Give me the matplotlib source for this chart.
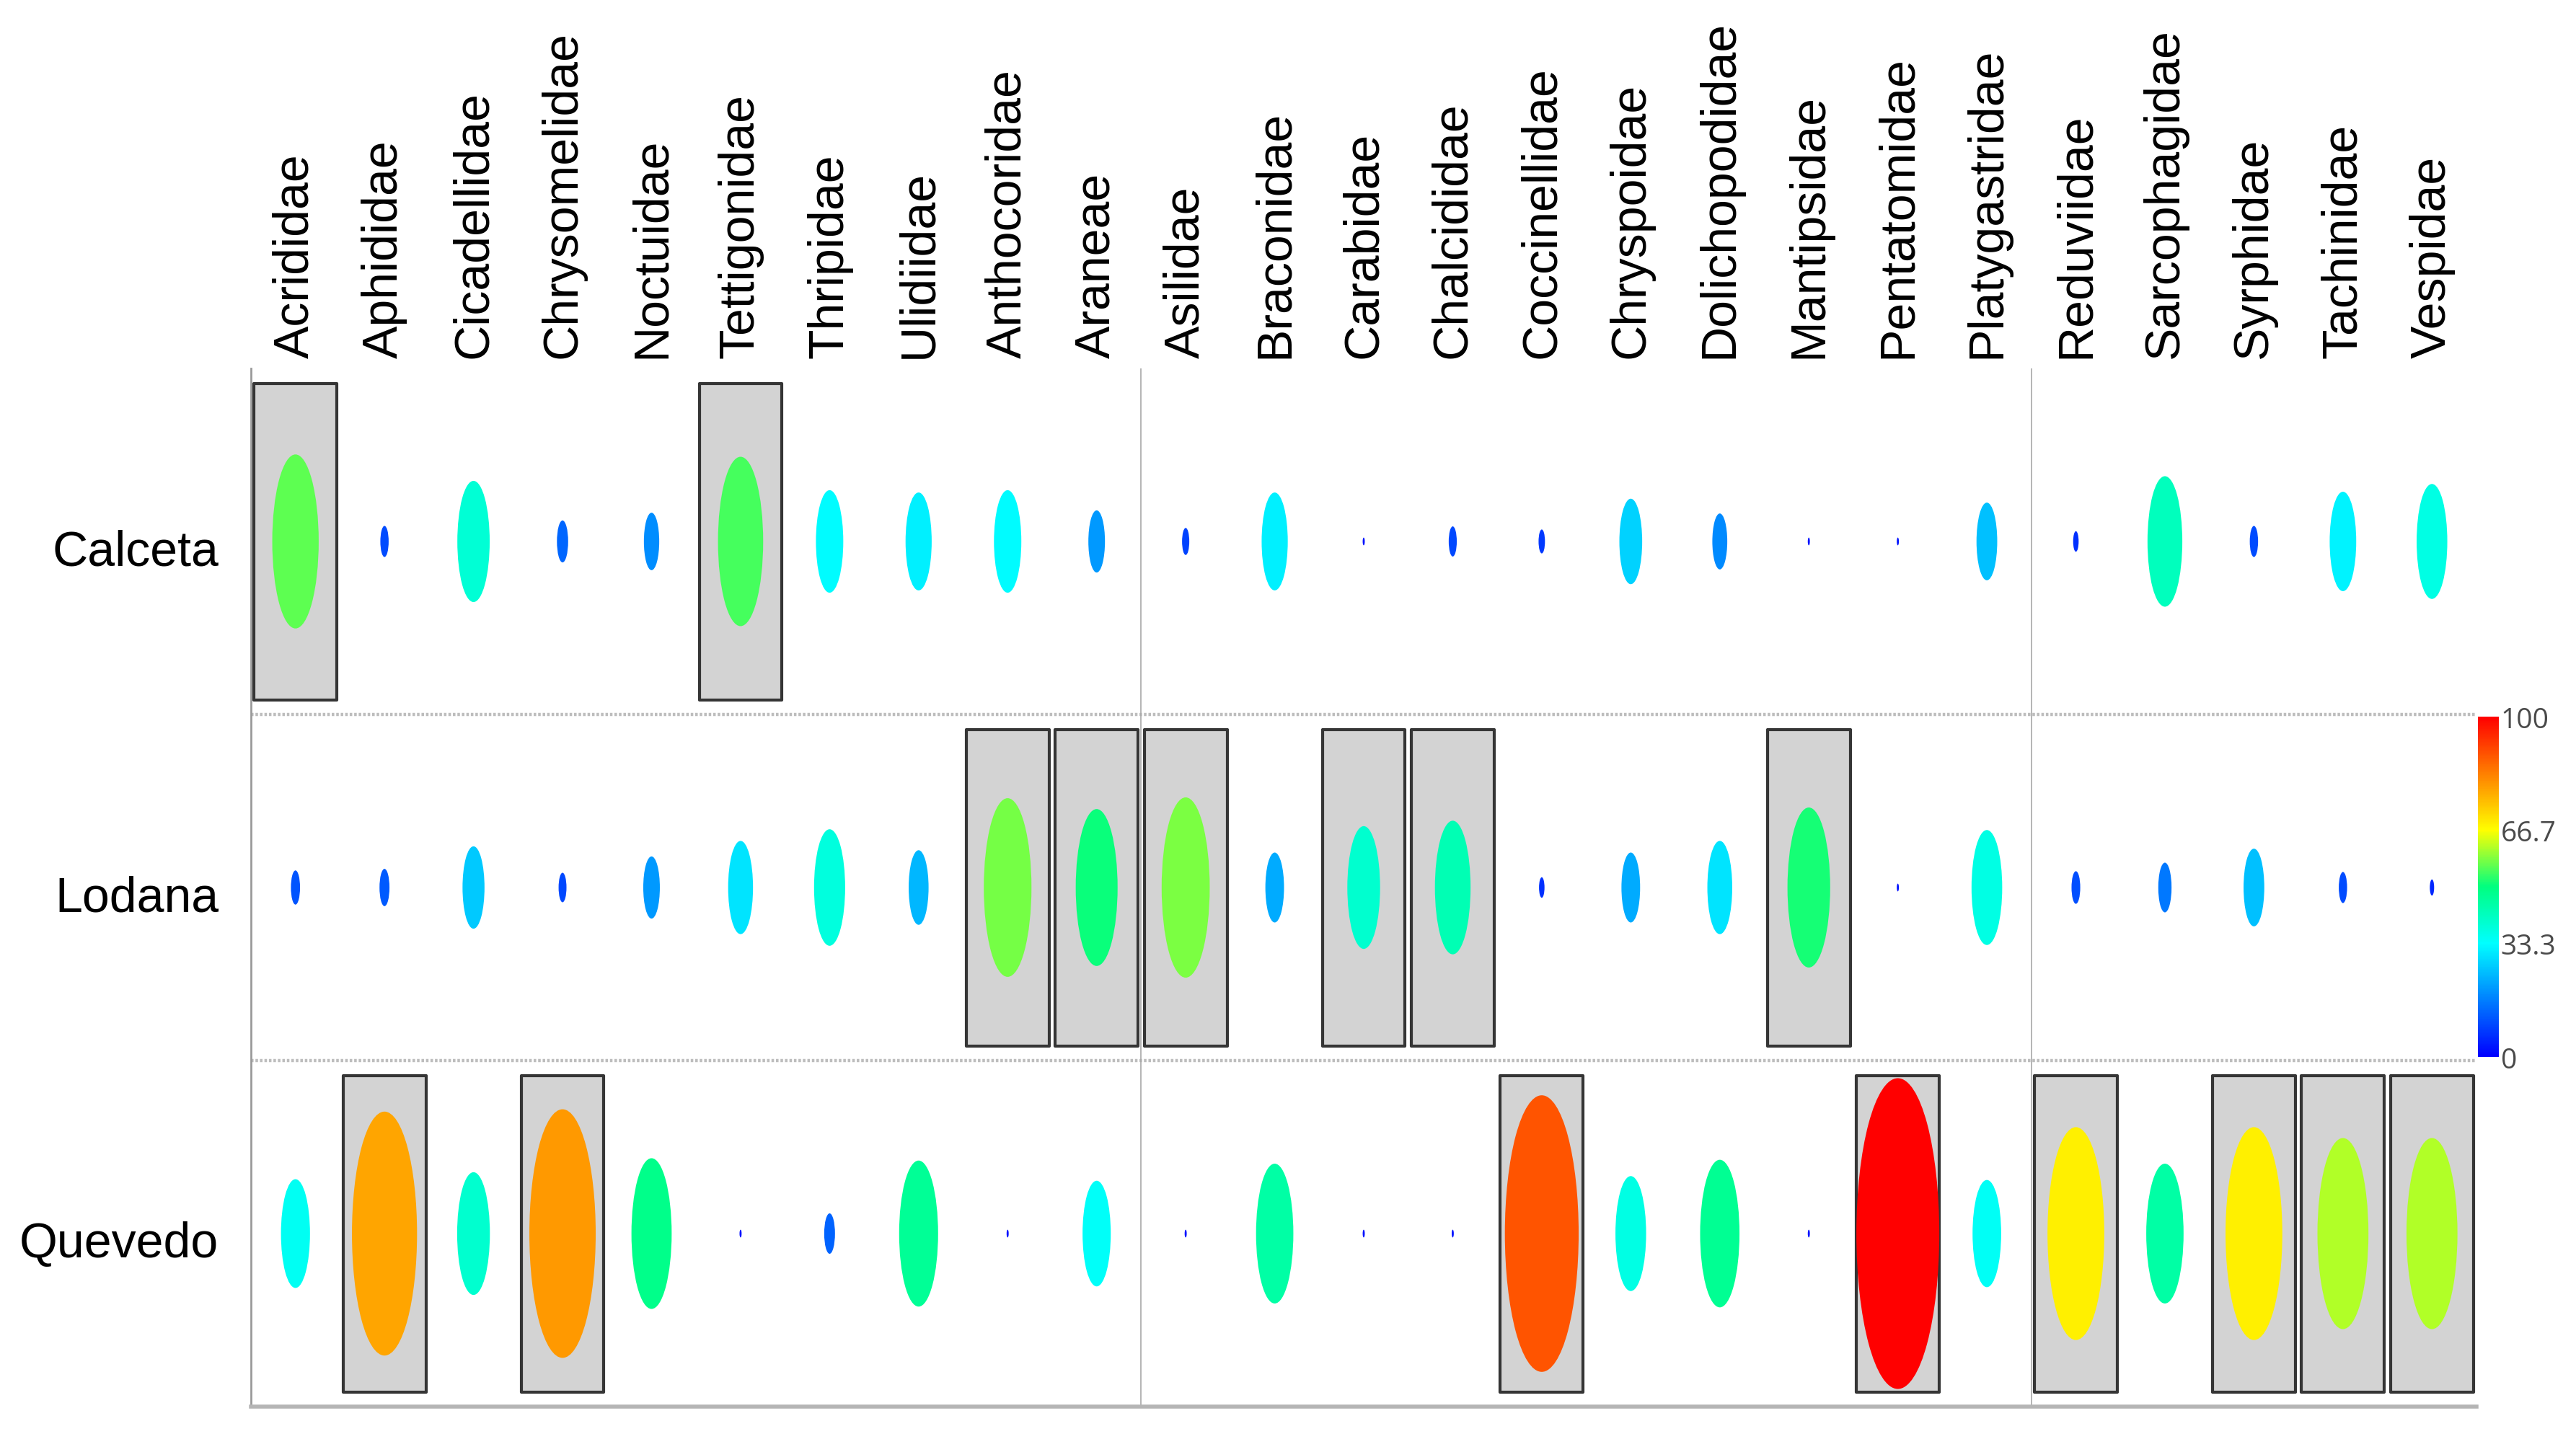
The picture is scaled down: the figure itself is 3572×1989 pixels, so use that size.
import matplotlib
matplotlib.use("Agg")
import matplotlib.pyplot as plt
import matplotlib.transforms as mtransforms
from matplotlib.patches import Ellipse, Rectangle
from matplotlib.colors import LinearSegmentedColormap, Normalize
from matplotlib.cm import ScalarMappable

familias = ["Acrididae", "Aphididae", "Cicadellidae", "Chrysomelidae", "Noctuidae",
            "Tettigonidae", "Thripidae", "Ulidiidae", "Anthocoridae", "Araneae",
            "Asilidae", "Braconidae", "Carabidae", "Chalcididae", "Coccinellidae",
            "Chryspoidae", "Dolichopodidae", "Mantipsidae", "Pentatomidae", "Platygastridae",
            "Reduviidae", "Sarcophagidae", "Syrphidae", "Tachinidae", "Vespidae"]
sitios = ["Calceta", "Lodana", "Quevedo"]

# valores relativos (0-100)
calceta = [56, 10, 39, 13.5, 18.5, 54.5, 33, 31.5, 33, 20,
           8.7, 31.5, 2.5, 9.7, 7.7, 27.5, 18, 2.5, 2.5, 25,
           6.6, 42, 10, 32, 37]
lodana = [11, 12, 26.5, 9.5, 20, 30, 37.5, 24, 57.5, 50.5,
          58, 22.5, 39.5, 43, 6.6, 22.5, 30, 51.5, 2.5, 37,
          10.5, 16, 25, 10, 5.2]
quevedo = [35, 78.5, 39.5, 80, 48.5, 2.5, 13, 47, 2.5, 34,
           2.5, 45, 2.5, 2.5, 89, 37, 47.5, 2.5, 100, 34.5,
           68.5, 45, 68.5, 61.5, 61.5]

# familias con recuadro gris
recuadro_calceta = ["Acrididae", "Tettigonidae"]
recuadro_lodana = ["Anthocoridae", "Araneae", "Asilidae", "Carabidae", "Chalcididae", "Mantipsidae"]
recuadro_quevedo = ["Aphididae", "Chrysomelidae", "Coccinellidae", "Pentatomidae",
                    "Reduviidae", "Syrphidae", "Tachinidae", "Vespidae"]

ticks_barra = [0, 33.3, 66.7, 100]

valores = [calceta, lodana, quevedo]
recuadros = [recuadro_calceta, recuadro_lodana, recuadro_quevedo]

cmap = LinearSegmentedColormap.from_list(
    "sitio", [(0, "#0000ff"), (1 / 3, "#00ffff"), (0.5, "#00ff80"), (2 / 3, "#ffff00"), (1, "#ff0000")])
norm = Normalize(0, 100)

W, H = 3572, 1990
fig = plt.figure(figsize=(W / 200, H / 200), dpi=200)
L, R, T, B = 348, 3434, 512, 1952
ax = fig.add_axes([L / W, 1 - B / H, (R - L) / W, (B - T) / H])
ax.set_xlim(-0.5, len(familias) - 0.5)
ax.set_ylim(len(sitios), 0)
ax.set_xticks([])
ax.set_yticks([])
for s in ["top", "right"]:
    ax.spines[s].set_visible(False)
ax.spines["left"].set_color("#9a9a9a")
ax.spines["left"].set_linewidth(1.0)
ax.spines["bottom"].set_color("#b5b5b5")
ax.spines["bottom"].set_linewidth(2.0)

for yy in [1, 2]:
    ax.axhline(yy, color="#bdbdbd", lw=1.6, dashes=(0.8, 0.6), zorder=1)
for xx in [9.5, 19.5]:
    ax.axvline(xx, color="#a8a8a8", lw=0.6, zorder=1)

esc_alto = 431 / 480 / 100
esc_ancho = 115 / 123.5 / 100
for j, sitio in enumerate(sitios):
    for i, fam in enumerate(familias):
        v = valores[j][i]
        if fam in recuadros[j]:
            ax.add_patch(Rectangle((i - 0.465, j + 0.5 - 0.457), 0.93, 0.915,
                                   facecolor="#d3d3d3", edgecolor="#353535", lw=1.5,
                                   joinstyle="round", zorder=2))
        ax.add_patch(Ellipse((i, j + 0.5), v * esc_ancho, v * esc_alto,
                             facecolor=cmap(norm(v)), edgecolor="none", zorder=3))

tr_col = mtransforms.blended_transform_factory(ax.transData, ax.transAxes)
for i, fam in enumerate(familias):
    ax.text(i, 1 + 15 / (B - T), fam, rotation=90, ha="center", va="bottom",
            fontsize=24.5, family="Liberation Sans", transform=tr_col)

tr_fila = mtransforms.blended_transform_factory(ax.transAxes, ax.transData)
for j, sitio in enumerate(sitios):
    ax.text(-45 / (R - L), j + 0.53, sitio, ha="right", va="center",
            fontsize=24.5, family="Liberation Sans", transform=tr_fila)

cax = fig.add_axes([3436 / W, 1 - 1467 / H, 29 / W, 472 / H])
cb = fig.colorbar(ScalarMappable(norm=norm, cmap=cmap), cax=cax, ticks=ticks_barra)
cb.outline.set_visible(False)
cb.ax.set_yticklabels([str(t) if t not in (0, 100) else str(int(t)) for t in ticks_barra])
cb.ax.tick_params(length=0, pad=1, labelsize=14, labelcolor="#4a4a4a")
for lab in cb.ax.get_yticklabels():
    lab.set_family("Open Sans")

fig.savefig("out.png", dpi=200)
